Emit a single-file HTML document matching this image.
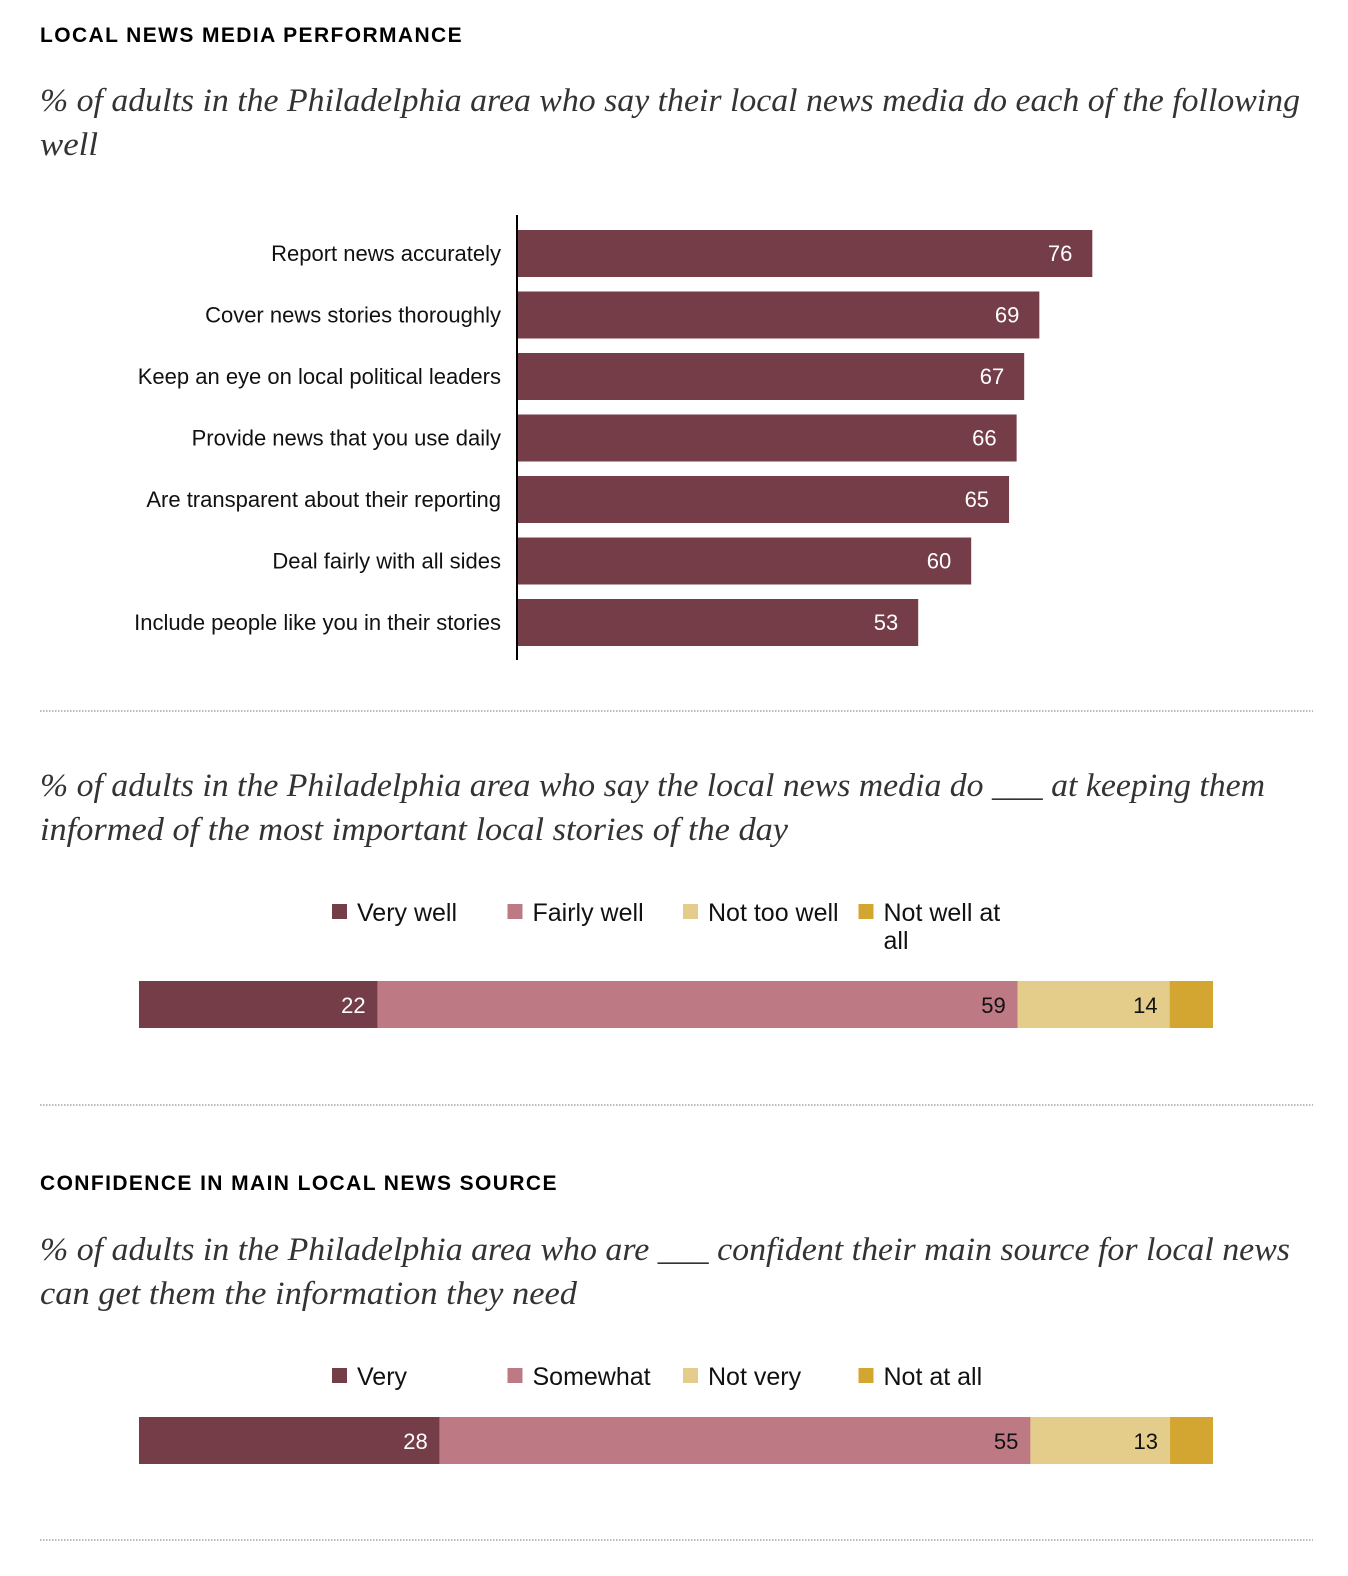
<!DOCTYPE html>
<html><head><meta charset="utf-8"><style>
body{margin:0;background:#fff;width:1348px;height:1576px;overflow:hidden;}
svg{display:block}
.h{font-family:"Liberation Sans",sans-serif;font-weight:bold;font-size:21px;letter-spacing:1.4px;fill:#000}
.s{font-family:"Liberation Serif",serif;font-style:italic;font-size:33px;fill:#333}
.l{font-family:"Liberation Sans",sans-serif;font-size:22px;fill:#111}
.lg{font-family:"Liberation Sans",sans-serif;font-size:25px;fill:#111}
.v{font-family:"Liberation Sans",sans-serif;font-size:22px}
</style></head><body>
<svg id="c" width="1348" height="1576" xmlns="http://www.w3.org/2000/svg">
<text class="h" x="40" y="42">LOCAL NEWS MEDIA PERFORMANCE</text>
<text class="s" x="40" y="111" textLength="1260" lengthAdjust="spacingAndGlyphs">% of adults in the Philadelphia area who say their local news media do each of the following</text>
<text class="s" x="40" y="155" textLength="58" lengthAdjust="spacingAndGlyphs">well</text>
<g id="bars1"></g>
<line x1="517" y1="215" x2="517" y2="660" stroke="#000" stroke-width="2"/>
<line x1="40" y1="711" x2="1313" y2="711" stroke="#777" stroke-dasharray="1.5,1.5"/>
<text class="s" x="40" y="796" textLength="1225" lengthAdjust="spacingAndGlyphs">% of adults in the Philadelphia area who say the local news media do ___ at keeping them</text>
<text class="s" x="40" y="840" textLength="748" lengthAdjust="spacingAndGlyphs">informed of the most important local stories of the day</text>
<g id="stack1"></g>
<line x1="40" y1="1105" x2="1313" y2="1105" stroke="#777" stroke-dasharray="1.5,1.5"/>
<text class="h" x="40" y="1190">CONFIDENCE IN MAIN LOCAL NEWS SOURCE</text>
<text class="s" x="40" y="1260" textLength="1250" lengthAdjust="spacingAndGlyphs">% of adults in the Philadelphia area who are ___ confident their main source for local news</text>
<text class="s" x="40" y="1304" textLength="537" lengthAdjust="spacingAndGlyphs">can get them the information they need</text>
<g id="stack2"></g>
<line x1="40" y1="1540" x2="1313" y2="1540" stroke="#777" stroke-dasharray="1.5,1.5"/>
</svg>
<script>
const categories=["Report news accurately","Cover news stories thoroughly","Keep an eye on local political leaders","Provide news that you use daily","Are transparent about their reporting","Deal fairly with all sides","Include people like you in their stories"];
const values=[76,69,67,66,65,60,53];
const informedLabels=["Very well","Fairly well","Not too well","Not well at\nall"];
const informedValues=[22,59,14,4];
const confLabels=["Very","Somewhat","Not very","Not at all"];
const confValues=[28,55,13,4];
const colors=["#743d48","#bd7a84","#e4cd8a","#d3a631"];
const NS="http://www.w3.org/2000/svg";
function mk(t,a,p){const e=document.createElementNS(NS,t);for(const k in a)e.setAttribute(k,a[k]);p.appendChild(e);return e;}
const x1=v=>517+v*7.57;
const g1=document.getElementById('bars1');
categories.forEach((c,i)=>{
  const y=230+i*61.5;
  const r=mk('rect',{x:518,y:y,width:x1(values[i])-518,height:47,fill:colors[0]},g1);
  
  
  const t=mk('text',{x:501,y:y+31,'text-anchor':'end',class:'l'},g1);t.textContent=c;
  
  
  const v=mk('text',{x:x1(values[i])-20,y:y+31,'text-anchor':'end',class:'v',fill:'#fff'},g1);v.textContent=values[i];
  
  
});
function stack(id,labels,vals,legY,barY){
  const g=document.getElementById(id);
  const total=vals.reduce((a,b)=>a+b,0);
  const sx=v=>139+v/total*1074;
  labels.forEach((l,i)=>{
    const lx=332+i*175.5;
    const sq=mk('rect',{x:lx,y:legY-17,width:15,height:15,fill:colors[i]},g);
    
    
    l.split('\n').forEach((ln,j)=>{
      const t=mk('text',{x:lx+25,y:legY+j*28,class:'lg'},g);t.textContent=ln;
      
      
    });
  });
  let cum=0;
  vals.forEach((v,i)=>{
    const xa=sx(cum),xb=sx(cum+v);cum+=v;
    const r=mk('rect',{x:xa,y:barY,width:xb-xa,height:47,fill:colors[i]},g);
    
    
    if(i<3){const t=mk('text',{x:xb-12,y:barY+32,'text-anchor':'end',class:'v',fill:i==0?'#fff':'#111'},g);t.textContent=v;
      
      }
  });
}
stack('stack1',informedLabels,informedValues,921,981);
stack('stack2',confLabels,confValues,1385,1417);
</script>
</body></html>
